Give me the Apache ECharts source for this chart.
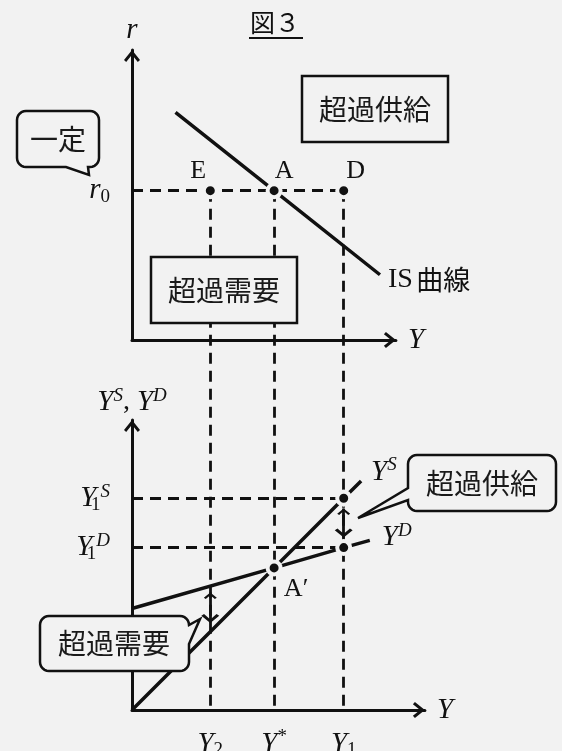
<!DOCTYPE html>
<html>
<head>
<meta charset="utf-8">
<script src="https://cdn.jsdelivr.net/npm/echarts@6/dist/echarts.min.js"></script>
<style>
html, body { margin: 0; padding: 0; background: #f2f2f2; }
#main { width: 562px; height: 751px; }
</style>
</head>
<body>
<div id="main"></div>
<script>
// model values (same unit on both axes)
const tickNames = ['Y2', 'Y*', 'Y1'];
const tickValues = [27, 49, 73];
const r0 = 51.5;
const pointNames = ['E', 'A', 'D'];
const isCurve = [[15, 78.5], [49, 51.5], [85.5, 22.5]];
const supplyLine = [[0, 0], [49, 49], [73, 73], [79, 79]];
const demandLine = [[0, 35], [49, 49], [73, 56], [82, 58.5]];
const y1S = 73;
const y1D = 56;
const lowerPoints = [[49, 49], [73, 73], [73, 56]];
const gapArrows = [[73, 69.5, 59.5], [27, 40.5, 30]];

// layout
const INK = '#111';
const BG = '#f2f2f2';
const SERIF = '"Liberation Serif", "DejaVu Serif", serif';
const CJK = '"Noto Sans CJK JP", sans-serif';
const PX = 2.9;            // pixels per unit
const X0 = 132;
const TOP_Y0 = 340;
const BOT_Y0 = 710;
const Y_MAX = 100;
const TOP_X_MAX = 91;
const BOT_X_MAX = 101;
const DROP = -(BOT_Y0 - TOP_Y0) / PX;   // bottom origin in top-panel units

const axisArrow = 'path://M8,0 L16,10 L13.8,12 L8,4.8 L2.2,12 L0,10 Z';
const gapArrow = 'path://M8,-11 M8,0 L16,9 L13.6,11 L8,4.4 L2.4,11 L0,9 Z';

const rich = {
  i: { fontFamily: SERIF, fontStyle: 'italic', fontSize: 29, lineHeight: 32, color: INK },
  sup: { fontFamily: SERIF, fontStyle: 'italic', fontSize: 19, lineHeight: 20, verticalAlign: 'top', color: INK },
  sub: { fontFamily: SERIF, fontSize: 19, lineHeight: 18, verticalAlign: 'bottom', color: INK },
  subn: { fontFamily: SERIF, fontSize: 19, lineHeight: 18, verticalAlign: 'bottom', color: INK, width: 4 },
  star: { fontFamily: SERIF, fontSize: 19, lineHeight: 20, verticalAlign: 'top', color: INK },
  p: { fontFamily: SERIF, fontSize: 28, lineHeight: 32, color: INK },
  up: { fontFamily: SERIF, fontSize: 28, lineHeight: 32, color: INK },
  cjk: { fontFamily: CJK, fontSize: 27, lineHeight: 32, color: INK }
};

function mathName(name) {
  const mod = name.slice(1);
  if (mod === '*') return '{i|' + name[0] + '}{star|*}';
  return '{i|' + name[0] + '}{sub|' + mod + '}';
}

function axis(extra) {
  return Object.assign({
    type: 'value',
    min: 0,
    axisLine: {
      show: true, onZero: false,
      symbol: ['none', axisArrow], symbolSize: [16, 12], symbolOffset: [0, -6],
      lineStyle: { color: INK, width: 3 }
    },
    axisTick: { show: false },
    splitLine: { show: false },
    axisLabel: { show: false },
    nameTextStyle: { rich: rich }
  }, extra);
}

// speech bubble: rounded rect with a tail on one side
function bubble(x, y, w, h, r, tail) {
  const pts = [];
  const arc = (cx, cy, a0) => {
    for (let k = 0; k <= 6; k++) {
      const a = a0 + k * Math.PI / 12;
      pts.push([cx + r * Math.cos(a), cy + r * Math.sin(a)]);
    }
  };
  pts.push([x + r, y]);
  arc(x + w - r, y + r, -Math.PI / 2);
  if (tail.side === 'right') pts.push([x + w, tail.a], tail.tip, [x + w, tail.b]);
  arc(x + w - r, y + h - r, 0);
  if (tail.side === 'bottom') pts.push([tail.a, y + h], tail.tip, [tail.b, y + h]);
  arc(x + r, y + h - r, Math.PI / 2);
  if (tail.side === 'left') pts.push([x, tail.a], tail.tip, [x, tail.b]);
  arc(x + r, y + r, Math.PI);
  return pts;
}

function label(text, x, y) {
  return {
    type: 'text', x: x, y: y, z: 11,
    style: { text: text, fontFamily: CJK, fontSize: 28, fill: '#1a1a1a', align: 'center', verticalAlign: 'middle' }
  };
}

const lineStyleDash = { color: INK, width: 2.8, type: [11, 7], opacity: 1, curveness: 0 };

const option = {
  backgroundColor: BG,
  animation: false,
  grid: [
    { left: X0, top: TOP_Y0 - Y_MAX * PX, width: TOP_X_MAX * PX, height: Y_MAX * PX, containLabel: false, outerBoundsMode: 'none' },
    { left: X0, top: BOT_Y0 - Y_MAX * PX, width: BOT_X_MAX * PX, height: Y_MAX * PX, containLabel: false, outerBoundsMode: 'none' }
  ],
  xAxis: [
    axis({ gridIndex: 0, max: TOP_X_MAX, name: '{i|Y}', nameGap: 12 }),
    axis({
      gridIndex: 1, max: BOT_X_MAX, name: '{i|Y}', nameGap: 12,
      axisLabel: {
        show: true, customValues: tickValues, margin: 18, rich: rich,
        formatter: v => mathName(tickNames[tickValues.indexOf(v)])
      }
    })
  ],
  yAxis: [
    axis({
      gridIndex: 0, max: Y_MAX, name: '{i|r}', nameGap: 4,
      axisLabel: { show: true, customValues: [r0], margin: 22, rich: rich, formatter: () => '{i|r}{sub|0}' }
    }),
    axis({
      gridIndex: 1, max: Y_MAX, name: '{i|Y}{sup|S}{p|, }{i|Y}{sup|D}', nameGap: 2,
      axisLabel: {
        show: true, customValues: [y1S, y1D], margin: 22, rich: rich,
        formatter: v => v === y1S ? '{i|Y}{subn|1}{sup|S}' : '{i|Y}{subn|1}{sup|D}'
      }
    })
  ],
  series: [
    {
      type: 'lines', coordinateSystem: 'cartesian2d', xAxisIndex: 0, yAxisIndex: 0,
      clip: false, silent: true, z: 1, lineStyle: lineStyleDash,
      data: [{ coords: [[0, r0], [tickValues[2], r0]] }]
        .concat(tickValues.map(x => ({ coords: [[x, r0], [x, DROP]] })))
    },
    {
      type: 'lines', coordinateSystem: 'cartesian2d', xAxisIndex: 1, yAxisIndex: 1,
      clip: false, silent: true, z: 1, lineStyle: lineStyleDash,
      data: [
        { coords: [[0, y1S], [tickValues[2], y1S]] },
        { coords: [[0, y1D], [tickValues[2], y1D]] }
      ]
    },
    {
      type: 'line', xAxisIndex: 0, yAxisIndex: 0, data: isCurve, showSymbol: false, silent: true, z: 3,
      lineStyle: { color: INK, width: 3.5 },
      endLabel: { show: true, distance: 8, offset: [0, 5], formatter: '{up|IS} {cjk|曲線}', rich: rich }
    },
    {
      type: 'line', xAxisIndex: 1, yAxisIndex: 1, data: supplyLine, showSymbol: false, silent: true, z: 3,
      lineStyle: { color: INK, width: 3.5 },
      endLabel: { show: true, distance: 10, offset: [0, -9], formatter: '{i|Y}{sup|S}', rich: rich }
    },
    {
      type: 'line', xAxisIndex: 1, yAxisIndex: 1, data: demandLine, showSymbol: false, silent: true, z: 3,
      lineStyle: { color: INK, width: 3.5 },
      endLabel: { show: true, distance: 12, offset: [0, -3], formatter: '{i|Y}{sup|D}', rich: rich }
    },
    {
      type: 'lines', coordinateSystem: 'cartesian2d', xAxisIndex: 1, yAxisIndex: 1,
      silent: true, z: 4,
      symbol: [gapArrow, gapArrow], symbolSize: [13, 17.9],
      lineStyle: { color: INK, width: 2.8, opacity: 1, curveness: 0 },
      data: gapArrows.map(g => ({ coords: [[g[0], g[1]], [g[0], g[2]]] }))
    },
    {
      type: 'scatter', xAxisIndex: 0, yAxisIndex: 0, silent: true, z: 5,
      symbolSize: 13,
      itemStyle: { color: INK, borderColor: BG, borderWidth: 4, opacity: 1 },
      label: { show: true, position: 'inside', formatter: '{b}', fontFamily: SERIF, fontSize: 26, color: INK },
      data: pointNames.map((n, i) => ({
        name: n, value: [tickValues[i], r0],
        label: { offset: [[-12, -19], [10, -19], [12, -19]][i] }
      }))
    },
    {
      type: 'scatter', xAxisIndex: 1, yAxisIndex: 1, silent: true, z: 5,
      symbolSize: 13,
      itemStyle: { color: INK, borderColor: BG, borderWidth: 4, opacity: 1 },
      label: { show: false },
      data: lowerPoints.map((p, i) => i === 0
        ? { name: 'A′', value: p, label: { show: true, position: 'inside', formatter: '{b}', offset: [22, 21], fontFamily: SERIF, fontSize: 26, color: INK } }
        : { name: '', value: p })
    }
  ],
  graphic: [
    { type: 'text', x: 250, y: 22, z: 11, style: { text: '図３', fontFamily: CJK, fontSize: 25, fill: INK, verticalAlign: 'middle' } },
    { type: 'line', z: 11, shape: { x1: 249, y1: 38, x2: 303, y2: 38 }, style: { stroke: INK, lineWidth: 2 } },

    { type: 'rect', z: 10, shape: { x: 302, y: 76, width: 146, height: 66 }, style: { fill: BG, stroke: INK, lineWidth: 2.5 } },
    label('超過供給', 375, 109),
    { type: 'rect', z: 10, shape: { x: 151, y: 257, width: 146, height: 66 }, style: { fill: BG, stroke: INK, lineWidth: 2.5 } },
    label('超過需要', 224, 290),

    { type: 'polygon', z: 10, shape: { points: bubble(17, 111, 82, 56, 9, { side: 'bottom', a: 88, tip: [89, 175], b: 66 }) },
      style: { fill: BG, stroke: INK, lineWidth: 2.5 } },
    label('一定', 58, 139),

    { type: 'polygon', z: 10, shape: { points: bubble(408, 455, 148, 56, 9, { side: 'left', a: 500, tip: [358, 518], b: 488 }) },
      style: { fill: BG, stroke: INK, lineWidth: 2.5 } },
    label('超過供給', 482, 483),

    { type: 'polygon', z: 10, shape: { points: bubble(40, 616, 149, 55, 9, { side: 'right', a: 625, tip: [200, 619], b: 644 }) },
      style: { fill: BG, stroke: INK, lineWidth: 2.5 } },
    label('超過需要', 114, 643)
  ]
};

const chart = echarts.init(document.getElementById('main'), null, { renderer: 'canvas' });
chart.setOption(option);
window.addEventListener('resize', () => chart.resize());
</script>
</body>
</html>
